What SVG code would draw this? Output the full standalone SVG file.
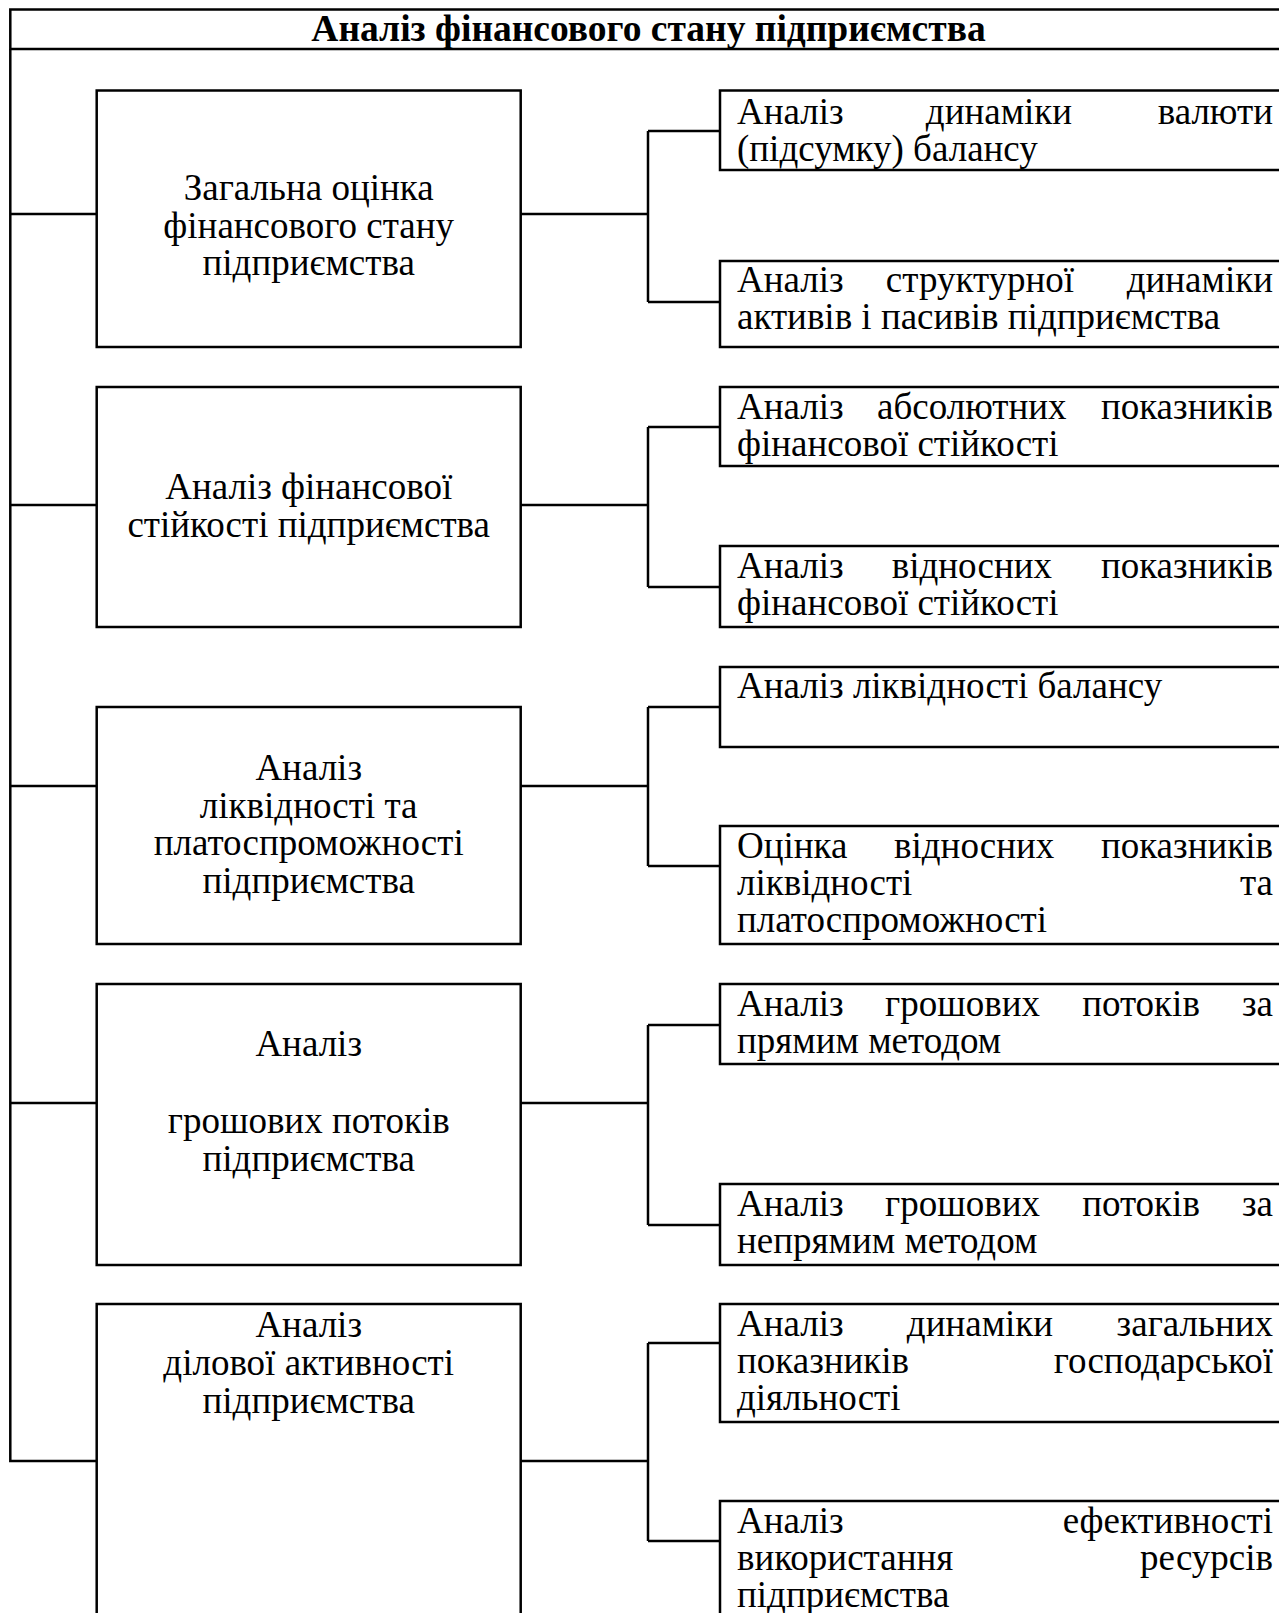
<svg xmlns="http://www.w3.org/2000/svg" width="1279" height="1613" viewBox="0 0 1279 1613">
<style>
.b{fill:#fff;stroke:#000;stroke-width:2.5}
.c{fill:none;stroke:#000;stroke-width:2.5}
text{font-family:"Liberation Serif","Times New Roman",serif;font-size:37px;fill:#000}
.m{text-anchor:middle}
.e{text-anchor:end}
.t{font-weight:bold;font-size:37.5px;text-anchor:middle}
</style>
<rect width="1279" height="1613" fill="#fff"/>
<g id="title">
<rect class="b" x="10.3" y="9.5" width="1300" height="39.5"/>
<text class="t" x="648.5" y="41">Аналіз фінансового стану підприємства</text>
</g>
<g id="connectors">
<path class="c" d="M10.3 49V1461H96.7"/>
<path class="c" d="M10.3 214H96.7M10.3 505H96.7M10.3 786H96.7M10.3 1103H96.7"/>
<path class="c" d="M520.7 214H648M648 131V302M648 131H720M648 302H720"/>
<path class="c" d="M520.7 505H648M648 427V587M648 427H720M648 587H720"/>
<path class="c" d="M520.7 786H648M648 707V866M648 707H720M648 866H720"/>
<path class="c" d="M520.7 1103H648M648 1025V1225M648 1025H720M648 1225H720"/>
<path class="c" d="M520.7 1461H648M648 1343V1541M648 1343H720M648 1541H720"/>
</g>
<g id="n1">
<rect class="b" x="96.7" y="90.5" width="424" height="256.5"/>
<text class="m" x="308.7" y="200">Загальна оцінка</text>
<text class="m" x="308.7" y="238">фінансового стану</text>
<text class="m" x="308.7" y="275">підприємства</text>
</g>
<g id="n2">
<rect class="b" x="96.7" y="387" width="424" height="240"/>
<text class="m" x="308.7" y="498.5">Аналіз фінансової</text>
<text class="m" x="308.7" y="536.5">стійкості підприємства</text>
</g>
<g id="n3">
<rect class="b" x="96.7" y="707" width="424" height="237"/>
<text class="m" x="308.7" y="780">Аналіз</text>
<text class="m" x="308.7" y="818">ліквідності та</text>
<text class="m" x="308.7" y="855">платоспроможності</text>
<text class="m" x="308.7" y="893">підприємства</text>
</g>
<g id="n4">
<rect class="b" x="96.7" y="984" width="424" height="281"/>
<text class="m" x="308.7" y="1056">Аналіз</text>
<text class="m" x="308.7" y="1133">грошових потоків</text>
<text class="m" x="308.7" y="1171">підприємства</text>
</g>
<g id="n5">
<rect class="b" x="96.7" y="1304" width="424" height="330"/>
<text class="m" x="308.7" y="1337">Аналіз</text>
<text class="m" x="308.7" y="1375">ділової активності</text>
<text class="m" x="308.7" y="1413">підприємства</text>
</g>
<g id="c1a">
<rect class="b" x="720" y="90.5" width="600" height="79.5"/>
<text x="737" y="124">Аналіз</text><text class="m" x="999" y="124">динаміки</text><text class="e" x="1273" y="124">валюти</text>
<text x="737" y="161">(підсумку) балансу</text>
</g>
<g id="c1b">
<rect class="b" x="720" y="261" width="600" height="86"/>
<text x="737" y="292">Аналіз</text><text class="m" x="980" y="292">структурної</text><text class="e" x="1273" y="292">динаміки</text>
<text x="737" y="329">активів і пасивів підприємства</text>
</g>
<g id="c2a">
<rect class="b" x="720" y="387" width="600" height="79"/>
<text x="737" y="419">Аналіз</text><text class="m" x="971.8" y="419">абсолютних</text><text class="e" x="1273" y="419">показників</text>
<text x="737" y="456">фінансової стійкості</text>
</g>
<g id="c2b">
<rect class="b" x="720" y="546" width="600" height="81"/>
<text x="737" y="578">Аналіз</text><text class="m" x="971.9" y="578">відносних</text><text class="e" x="1273" y="578">показників</text>
<text x="737" y="615">фінансової стійкості</text>
</g>
<g id="c3a">
<rect class="b" x="720" y="667" width="600" height="80"/>
<text x="737" y="698">Аналіз ліквідності балансу</text>
</g>
<g id="c3b">
<rect class="b" x="720" y="826" width="600" height="118"/>
<text x="737" y="858">Оцінка</text><text class="m" x="974.2" y="858">відносних</text><text class="e" x="1273" y="858">показників</text>
<text x="737" y="895">ліквідності</text><text class="e" x="1273" y="895">та</text>
<text x="737" y="932">платоспроможності</text>
</g>
<g id="c4a">
<rect class="b" x="720" y="984" width="600" height="80"/>
<text x="737" y="1016">Аналіз</text><text class="m" x="962.5" y="1016">грошових</text><text class="m" x="1141" y="1016">потоків</text><text class="e" x="1273" y="1016">за</text>
<text x="737" y="1053">прямим методом</text>
</g>
<g id="c4b">
<rect class="b" x="720" y="1184" width="600" height="81"/>
<text x="737" y="1216">Аналіз</text><text class="m" x="962.5" y="1216">грошових</text><text class="m" x="1141" y="1216">потоків</text><text class="e" x="1273" y="1216">за</text>
<text x="737" y="1253">непрямим методом</text>
</g>
<g id="c5a">
<rect class="b" x="720" y="1304" width="600" height="118"/>
<text x="737" y="1336">Аналіз</text><text class="m" x="980" y="1336">динаміки</text><text class="e" x="1273" y="1336">загальних</text>
<text x="737" y="1373">показників</text><text class="e" x="1273" y="1373">господарської</text>
<text x="737" y="1410">діяльності</text>
</g>
<g id="c5b">
<rect class="b" x="720" y="1501" width="600" height="140"/>
<text x="737" y="1533">Аналіз</text><text class="e" x="1273" y="1533">ефективності</text>
<text x="737" y="1570">використання</text><text class="e" x="1273" y="1570">ресурсів</text>
<text x="737" y="1607">підприємства</text>
</g>
</svg>
